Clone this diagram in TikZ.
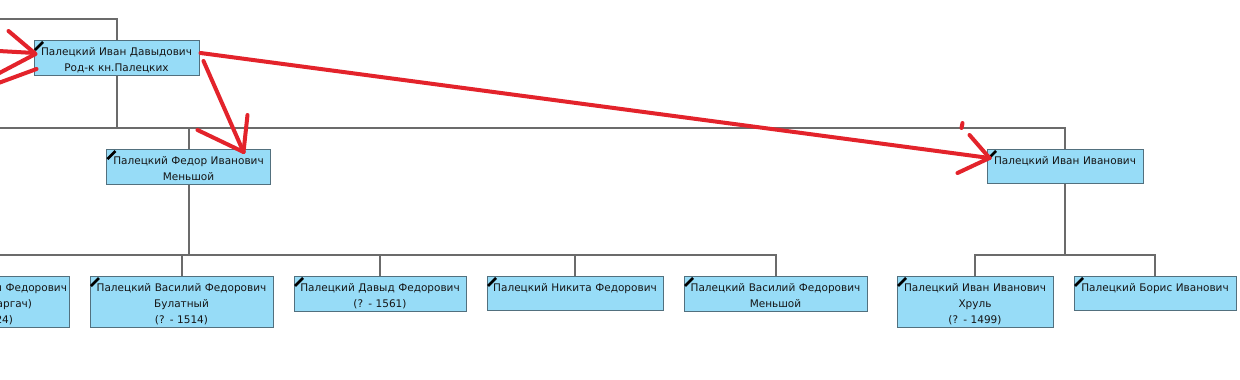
\documentclass[tikz,border=0pt]{standalone}
\usepackage{fontspec}
\setmainfont{DejaVu Sans}
\usetikzlibrary{calc}

\begin{document}
\begin{tikzpicture}[x=1pt, y=-1pt]
  \definecolor{boxfill}{HTML}{97DCF7}
  \definecolor{boxline}{HTML}{52707E}
  \definecolor{link}{HTML}{6B6B6B}
  \definecolor{marker}{HTML}{E3232B}
  \definecolor{ink}{HTML}{151515}
  \tikzset{
    person/.style={draw=boxline, fill=boxfill, line width=1pt, anchor=north, align=center,
      inner xsep=2pt, inner ysep=4pt, text height=10.5pt, text=ink, font=\fontsize{10.5}{16}\selectfont},
    oneline/.style={text depth=15.5pt},
    twoline/.style={text depth=16.5pt},
    threeline/.style={text depth=32.5pt},
    tree/.style={draw=link, line width=2pt},
    scrawl/.style={draw=marker, line width=4pt, line cap=round}
  }
  \useasboundingbox (0,0) rectangle (1240,380);
  \fill[white] (0,0) rectangle (1240,380);
  \clip (0,0) rectangle (1240,380);
  \node[person, twoline, text width=161pt] (ivanD) at (116.5,40) {Палецкий Иван Давыдович\\Род-к кн.Палецких};
  \node[person, twoline, text width=160pt] (fedor) at (188.5,149) {Палецкий Федор Иванович\\Меньшой};
  \node[person, oneline, text width=152pt] (ivanI) at (1065,149) {Палецкий Иван Иванович};
  \node[person, threeline, align=right, text width=162pt] (ivanF) at (-14,276) {н Федорович\\аргач)\kern35pt\\24)\kern54pt};
  \node[person, threeline, text width=179pt] (vasB) at (181.5,276) {Палецкий Василий Федорович\\Булатный\\(? - 1514)};
  \node[person, twoline, text width=168pt] (david) at (380,276) {Палецкий Давыд Федорович\\(? - 1561)};
  \node[person, oneline, text width=172pt] (nikita) at (575,276) {Палецкий Никита Федорович};
  \node[person, twoline, text width=179pt] (vasM) at (775.5,276) {Палецкий Василий Федорович\\Меньшой};
  \node[person, threeline, text width=152pt] (ivanKh) at (975,276) {Палецкий Иван Иванович\\Хруль\\(? - 1499)};
  \node[person, oneline, text width=158pt] (boris) at (1155,276) {Палецкий Борис Иванович};

  \foreach \n in {ivanD, fedor, ivanI, vasB, david, nikita, vasM, ivanKh, boris}
    \draw[black, line width=2.5pt] ($(\n.north west)+(1.5,10)$) -- ($(\n.north west)+(9.5,2)$);

  % family lines
  \coordinate (rail0) at (0,19);
  \coordinate (rail1) at (0,128);
  \coordinate (rail2) at (0,255);
  \draw[tree] (rail0) -| (ivanD.north);
  \draw[tree] (ivanD.south) -- (ivanD.south |- rail1);
  \draw[tree] (rail1) -| (ivanI.north);
  \draw[tree] (fedor.north) -- (fedor.north |- rail1);
  \draw[tree] (fedor.south) -- (fedor.south |- rail2);
  \draw[tree] (rail2) -| (vasM.north);
  \foreach \n in {vasB, david, nikita}
    \draw[tree] (\n.north) -- (\n.north |- rail2);
  \draw[tree] (ivanI.south) -- (ivanI.south |- rail2);
  \draw[tree] (ivanKh.north) |- (boris.north |- rail2) -- (boris.north);

  % red marks
  \coordinate (tipI) at ($(ivanI.north west)+(3,9)$);
  \coordinate (tipF) at ($(fedor.north east)+(-27.5,3)$);
  \coordinate (tipL) at ($(ivanD.west)+(1,-5)$);
  \draw[scrawl] ($(ivanD.east)+(1,-5)$) -- (tipI);
  \draw[scrawl] (tipI) -- +(-20,-23);
  \draw[scrawl] (tipI) -- +(-32,15);
  \draw[scrawl] ($(tipI)+(-27,-35)$) -- +(-1,5);
  \draw[scrawl] ($(ivanD.east)+(4,3)$) -- (tipF);
  \draw[scrawl] (tipF) -- +(4,-37);
  \draw[scrawl] (tipF) -- +(-46,-22);
  \draw[scrawl] (tipL) -- +(-26,-22);
  \draw[scrawl] (tipL) -- +(-36,-2);
  \draw[scrawl] ($(tipL)+(1,1)$) -- +(-38,20);
  \draw[scrawl] ($(ivanD.west)+(3,11)$) -- +(-38,14);
\end{tikzpicture}
\end{document}
